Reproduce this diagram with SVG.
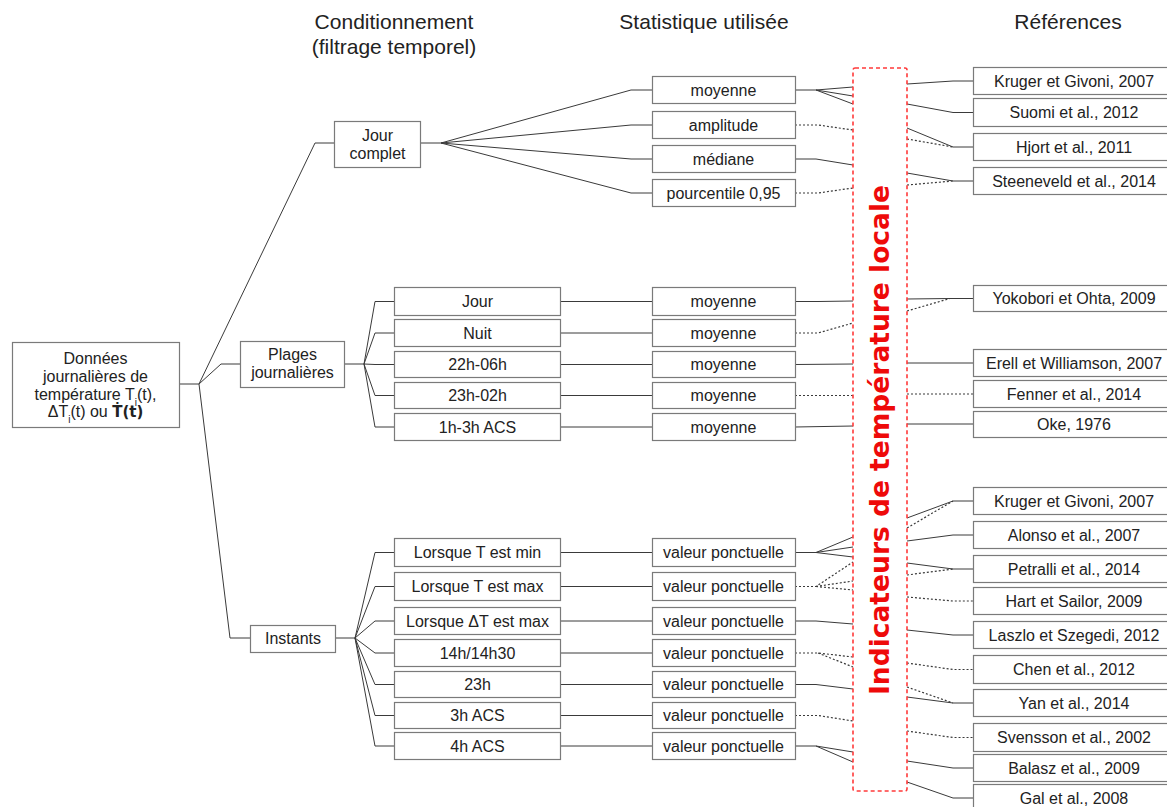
<svg xmlns="http://www.w3.org/2000/svg" width="1167" height="807" viewBox="0 0 1167 807">
<style>
.bg{fill:#fff}
.box{fill:#fff;stroke:#7a7a7a;stroke-width:1.2}
.t{font-family:"Liberation Sans",Arial,sans-serif;font-size:16px;fill:#222;text-anchor:middle}
.h{font-family:"Liberation Sans",Arial,sans-serif;font-size:21px;fill:#222;text-anchor:middle}
.c{fill:none;stroke:#3a3a3a;stroke-width:1}
.d{fill:none;stroke:#3a3a3a;stroke-width:1.2;stroke-dasharray:2 2}
.ind{fill:none;stroke:#ff3a3a;stroke-width:1.6;stroke-dasharray:4 3}
.it{font-family:"DejaVu Sans",sans-serif;font-weight:bold;font-size:26px;fill:#ee0a0a;text-anchor:middle}
</style>
<rect class="bg" x="0" y="0" width="1167" height="807"/>
<g id="headers">
<text class="h" x="394" y="29">Conditionnement</text>
<text class="h" x="394" y="54">(filtrage temporel)</text>
<text class="h" x="704" y="29">Statistique utilisée</text>
<text class="h" x="1068" y="29">Références</text>
</g>
<g id="connectors">
<polyline class="c" points="179,384 199,384"/>
<polyline class="c" points="199,384 315,143 334,143"/>
<polyline class="c" points="199,384 221,364 240,364"/>
<polyline class="c" points="199,384 230,638 250,638"/>
<polyline class="c" points="421,143 441,143"/>
<polyline class="c" points="441,143 631,90 652,90"/>
<polyline class="c" points="441,143 631,125 652,125"/>
<polyline class="c" points="441,143 631,159 652,159"/>
<polyline class="c" points="441,143 631,193 652,193"/>
<polyline class="c" points="345,364 364,364"/>
<polyline class="c" points="364,364 375,301.5 394,301.5"/>
<polyline class="c" points="364,364 375,333 394,333"/>
<polyline class="c" points="364,364 375,364.5 394,364.5"/>
<polyline class="c" points="364,364 375,395.5 394,395.5"/>
<polyline class="c" points="364,364 375,427 394,427"/>
<polyline class="c" points="561,301.5 652,301.5"/>
<polyline class="c" points="561,333 652,333"/>
<polyline class="c" points="561,364.5 652,364.5"/>
<polyline class="c" points="561,395.5 652,395.5"/>
<polyline class="c" points="561,427 652,427"/>
<polyline class="c" points="336,638 355,638"/>
<polyline class="c" points="355,638 375,552.5 394,552.5"/>
<polyline class="c" points="355,638 375,586.5 394,586.5"/>
<polyline class="c" points="355,638 375,621 394,621"/>
<polyline class="c" points="355,638 375,653 394,653"/>
<polyline class="c" points="355,638 375,684.5 394,684.5"/>
<polyline class="c" points="355,638 375,715.5 394,715.5"/>
<polyline class="c" points="355,638 375,746 394,746"/>
<polyline class="c" points="561,552.5 652,552.5"/>
<polyline class="c" points="561,586.5 652,586.5"/>
<polyline class="c" points="561,621 652,621"/>
<polyline class="c" points="561,653 652,653"/>
<polyline class="c" points="561,684.5 652,684.5"/>
<polyline class="c" points="561,715.5 652,715.5"/>
<polyline class="c" points="561,746 652,746"/>
<polyline class="c" points="795,90 816,90 853,87"/>
<polyline class="c" points="816,90 853,96"/>
<polyline class="c" points="816,90 853,104"/>
<polyline class="d" points="795,125 818,125 853,130"/>
<polyline class="c" points="795,159 816,159 853,165"/>
<polyline class="d" points="795,193 818,193 853,188"/>
<polyline class="c" points="795,301.5 818,301.5 853,301"/>
<polyline class="d" points="795,333 818,333 853,323"/>
<polyline class="c" points="795,364.5 853,364"/>
<polyline class="d" points="795,395.5 853,395.5"/>
<polyline class="c" points="795,427 853,426"/>
<polyline class="c" points="795,552.5 816,552.5 853,537"/>
<polyline class="c" points="816,552.5 853,547"/>
<polyline class="c" points="816,552.5 853,557"/>
<polyline class="d" points="795,586.5 816,586.5 853,562"/>
<polyline class="d" points="816,586.5 853,581"/>
<polyline class="d" points="816,586.5 853,590"/>
<polyline class="c" points="795,621 816,621 853,624"/>
<polyline class="d" points="795,653 818,653 853,657"/>
<polyline class="d" points="818,653 853,667"/>
<polyline class="c" points="795,684.5 816,684.5 853,689"/>
<polyline class="d" points="795,715.5 818,715.5 853,721"/>
<polyline class="c" points="795,746 816,746 853,752"/>
<polyline class="c" points="816,746 853,762"/>
<polyline class="c" points="907,84 953,81 973,81"/>
<polyline class="c" points="907,104 953,112.5 973,112.5"/>
<polyline class="c" points="907,128 953,147 973,147"/>
<polyline class="d" points="907,139 953,147"/>
<polyline class="c" points="907,173 953,181 973,181"/>
<polyline class="d" points="907,185 953,181"/>
<polyline class="c" points="907,299 950,298.5 973,298.5"/>
<polyline class="d" points="907,311 950,298.5"/>
<polyline class="c" points="907,363 973,363"/>
<polyline class="d" points="907,394 973,394"/>
<polyline class="c" points="907,424 973,424"/>
<polyline class="c" points="907,518 953,501 973,501"/>
<polyline class="d" points="907,528 953,501"/>
<polyline class="c" points="907,541 953,535 973,535"/>
<polyline class="c" points="907,563 953,569 973,569"/>
<polyline class="d" points="907,575 953,569"/>
<polyline class="d" points="907,597 953,601 973,601"/>
<polyline class="c" points="907,630 953,635 973,635"/>
<polyline class="d" points="907,663 953,669.5 973,669.5"/>
<polyline class="d" points="907,687 953,703"/>
<polyline class="c" points="907,697 953,703 973,703"/>
<polyline class="d" points="907,731 953,737.5 973,737.5"/>
<polyline class="c" points="907,761 953,768 973,768"/>
<polyline class="c" points="907,782 953,798 973,798"/>
</g>
<g id="root"><rect class="box" x="12.5" y="342.5" width="167" height="85"/>
<text class="t" x="95.5" y="363.5">Données</text>
<text class="t" x="95.5" y="381.5">journalières de</text>
<text class="t" x="95.5" y="399.5">température T<tspan baseline-shift="sub" font-size="10">i</tspan>(t),</text>
<text class="t" x="95.5" y="417">ΔT<tspan baseline-shift="sub" font-size="10">i</tspan>(t) ou <tspan font-family="DejaVu Sans, sans-serif" font-weight="bold" font-size="15">Ṫ(t)</tspan></text></g>
<g id="jour-complet"><rect class="box" x="334.5" y="121.5" width="86" height="46"/><text class="t" x="377.5" y="141">Jour</text><text class="t" x="377.5" y="159">complet</text></g>
<g id="plages"><rect class="box" x="240.5" y="341.5" width="104" height="46"/><text class="t" x="292.5" y="360">Plages</text><text class="t" x="292.5" y="378">journalières</text></g>
<g id="instants"><rect class="box" x="250.5" y="625.5" width="85" height="27"/><text class="t" x="293" y="644">Instants</text></g>
<g id="c-jour"><rect class="box" x="394.5" y="287.5" width="166" height="28"/><text class="t" x="477.5" y="307">Jour</text></g>
<g id="c-nuit"><rect class="box" x="394.5" y="319.5" width="166" height="27"/><text class="t" x="477.5" y="338.5">Nuit</text></g>
<g id="c-22h"><rect class="box" x="394.5" y="351.5" width="166" height="26"/><text class="t" x="477.5" y="370">22h-06h</text></g>
<g id="c-23h02"><rect class="box" x="394.5" y="382.5" width="166" height="26"/><text class="t" x="477.5" y="401">23h-02h</text></g>
<g id="c-1h3h"><rect class="box" x="394.5" y="413.5" width="166" height="27"/><text class="t" x="477.5" y="432.5">1h-3h ACS</text></g>
<g id="c-tmin"><rect class="box" x="394.5" y="538.5" width="166" height="28"/><text class="t" x="477.5" y="558">Lorsque T est min</text></g>
<g id="c-tmax"><rect class="box" x="394.5" y="572.5" width="166" height="28"/><text class="t" x="477.5" y="592">Lorsque T est max</text></g>
<g id="c-dtmax"><rect class="box" x="394.5" y="607.5" width="166" height="27"/><text class="t" x="477.5" y="626.5">Lorsque ΔT est max</text></g>
<g id="c-14h"><rect class="box" x="394.5" y="639.5" width="166" height="27"/><text class="t" x="477.5" y="658.5">14h/14h30</text></g>
<g id="c-23h"><rect class="box" x="394.5" y="671.5" width="166" height="26"/><text class="t" x="477.5" y="690">23h</text></g>
<g id="c-3h"><rect class="box" x="394.5" y="702.5" width="166" height="26"/><text class="t" x="477.5" y="721">3h ACS</text></g>
<g id="c-4h"><rect class="box" x="394.5" y="732.5" width="166" height="27"/><text class="t" x="477.5" y="751.5">4h ACS</text></g>
<g id="s-moyenne"><rect class="box" x="652.5" y="76.5" width="143" height="27"/><text class="t" x="723.5" y="95.5">moyenne</text></g>
<g id="s-amplitude"><rect class="box" x="652.5" y="111.5" width="143" height="27"/><text class="t" x="723.5" y="130.5">amplitude</text></g>
<g id="s-mediane"><rect class="box" x="652.5" y="145.5" width="143" height="27"/><text class="t" x="723.5" y="164.5">médiane</text></g>
<g id="s-pourcentile"><rect class="box" x="652.5" y="179.5" width="143" height="27"/><text class="t" x="723.5" y="198.5">pourcentile 0,95</text></g>
<g id="s-m1"><rect class="box" x="652.5" y="287.5" width="143" height="28"/><text class="t" x="723.5" y="307">moyenne</text></g>
<g id="s-m2"><rect class="box" x="652.5" y="319.5" width="143" height="27"/><text class="t" x="723.5" y="338.5">moyenne</text></g>
<g id="s-m3"><rect class="box" x="652.5" y="351.5" width="143" height="26"/><text class="t" x="723.5" y="370">moyenne</text></g>
<g id="s-m4"><rect class="box" x="652.5" y="382.5" width="143" height="26"/><text class="t" x="723.5" y="401">moyenne</text></g>
<g id="s-m5"><rect class="box" x="652.5" y="413.5" width="143" height="27"/><text class="t" x="723.5" y="432.5">moyenne</text></g>
<g id="s-v1"><rect class="box" x="652.5" y="538.5" width="143" height="28"/><text class="t" x="723.5" y="558">valeur ponctuelle</text></g>
<g id="s-v2"><rect class="box" x="652.5" y="572.5" width="143" height="28"/><text class="t" x="723.5" y="592">valeur ponctuelle</text></g>
<g id="s-v3"><rect class="box" x="652.5" y="607.5" width="143" height="27"/><text class="t" x="723.5" y="626.5">valeur ponctuelle</text></g>
<g id="s-v4"><rect class="box" x="652.5" y="639.5" width="143" height="27"/><text class="t" x="723.5" y="658.5">valeur ponctuelle</text></g>
<g id="s-v5"><rect class="box" x="652.5" y="671.5" width="143" height="26"/><text class="t" x="723.5" y="690">valeur ponctuelle</text></g>
<g id="s-v6"><rect class="box" x="652.5" y="702.5" width="143" height="26"/><text class="t" x="723.5" y="721">valeur ponctuelle</text></g>
<g id="s-v7"><rect class="box" x="652.5" y="732.5" width="143" height="27"/><text class="t" x="723.5" y="751.5">valeur ponctuelle</text></g>
<g id="indicateurs"><rect class="ind" x="853" y="68" width="54" height="723" rx="2"/>
<text class="it" transform="translate(889,440) rotate(-90)" textLength="510" lengthAdjust="spacingAndGlyphs">Indicateurs de température locale</text></g>
<g id="r-kruger1"><rect class="box" x="973.5" y="67.5" width="202" height="27"/><text class="t" x="1074" y="86.5">Kruger et Givoni, 2007</text></g>
<g id="r-suomi"><rect class="box" x="973.5" y="98.5" width="202" height="28"/><text class="t" x="1074" y="118">Suomi et al., 2012</text></g>
<g id="r-hjort"><rect class="box" x="973.5" y="133.5" width="202" height="27"/><text class="t" x="1074" y="152.5">Hjort et al., 2011</text></g>
<g id="r-steeneveld"><rect class="box" x="973.5" y="167.5" width="202" height="27"/><text class="t" x="1074" y="186.5">Steeneveld et al., 2014</text></g>
<g id="r-yokobori"><rect class="box" x="973.5" y="285.5" width="202" height="26"/><text class="t" x="1074" y="304">Yokobori et Ohta, 2009</text></g>
<g id="r-erell"><rect class="box" x="973.5" y="349.5" width="202" height="27"/><text class="t" x="1074" y="368.5">Erell et Williamson, 2007</text></g>
<g id="r-fenner"><rect class="box" x="973.5" y="380.5" width="202" height="27"/><text class="t" x="1074" y="399.5">Fenner et al., 2014</text></g>
<g id="r-oke"><rect class="box" x="973.5" y="411.5" width="202" height="26"/><text class="t" x="1074" y="429.5">Oke, 1976</text></g>
<g id="r-kruger2"><rect class="box" x="973.5" y="487.5" width="202" height="27"/><text class="t" x="1074" y="506.5">Kruger et Givoni, 2007</text></g>
<g id="r-alonso"><rect class="box" x="973.5" y="521.5" width="202" height="27"/><text class="t" x="1074" y="540.5">Alonso et al., 2007</text></g>
<g id="r-petralli"><rect class="box" x="973.5" y="555.5" width="202" height="27"/><text class="t" x="1074" y="574.5">Petralli et al., 2014</text></g>
<g id="r-hart"><rect class="box" x="973.5" y="587.5" width="202" height="27"/><text class="t" x="1074" y="606.5">Hart et Sailor, 2009</text></g>
<g id="r-laszlo"><rect class="box" x="973.5" y="621.5" width="202" height="27"/><text class="t" x="1074" y="640.5">Laszlo et Szegedi, 2012</text></g>
<g id="r-chen"><rect class="box" x="973.5" y="655.5" width="202" height="28"/><text class="t" x="1074" y="675">Chen et al., 2012</text></g>
<g id="r-yan"><rect class="box" x="973.5" y="689.5" width="202" height="27"/><text class="t" x="1074" y="708.5">Yan et al., 2014</text></g>
<g id="r-svensson"><rect class="box" x="973.5" y="723.5" width="202" height="28"/><text class="t" x="1074" y="743">Svensson et al., 2002</text></g>
<g id="r-balasz"><rect class="box" x="973.5" y="754.5" width="202" height="27"/><text class="t" x="1074" y="773.5">Balasz et al., 2009</text></g>
<g id="r-gal"><rect class="box" x="973.5" y="784.5" width="202" height="28"/><text class="t" x="1074" y="803.5">Gal et al., 2008</text></g>
</svg>
